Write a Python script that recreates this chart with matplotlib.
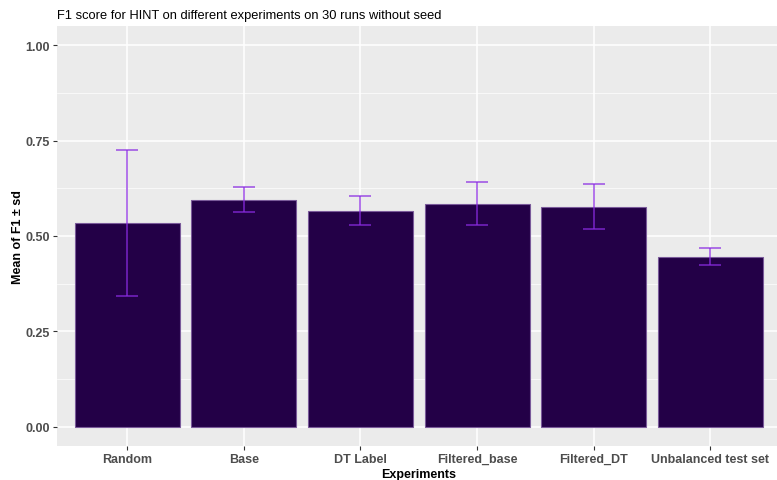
import matplotlib
matplotlib.use('Agg')
import matplotlib.pyplot as plt
import numpy as np
from matplotlib.ticker import MultipleLocator

experiments = ['Random', 'Base', 'DT Label', 'Filtered_base', 'Filtered_DT', 'Unbalanced test set']
mean_f1 = [0.534, 0.595, 0.566, 0.585, 0.577, 0.446]
sd_f1 = [0.191, 0.032, 0.038, 0.056, 0.058, 0.022]

plt.rcParams['font.family'] = ['Liberation Sans', 'DejaVu Sans']

fig = plt.figure(figsize=(7.77, 4.81), dpi=100)
ax = fig.add_axes([0.0734, 0.0707, 0.931, 0.8732])
ax.set_facecolor('#EBEBEB')

x = np.arange(len(experiments))
ax.bar(x, mean_f1, width=0.9, color='#230047', edgecolor='#7a5a9a', linewidth=0.8, zorder=3)
ax.errorbar(x, mean_f1, yerr=sd_f1, fmt='none', ecolor='#8A2BE2', alpha=0.7,
            elinewidth=1.3, capsize=8, capthick=1.3, zorder=4)

ax.set_xlim(-0.6, len(experiments) - 0.4)
ax.set_ylim(-0.05, 1.05)
ax.yaxis.set_major_locator(MultipleLocator(0.25))
ax.yaxis.set_minor_locator(MultipleLocator(0.125))
ax.set_xticks(x)
ax.set_xticklabels(experiments)
ax.set_yticklabels([f'{v:.2f}' for v in ax.get_yticks()])

ax.grid(True, which='major', color='white', linewidth=1.1, zorder=0)
ax.grid(True, which='minor', axis='y', color='white', linewidth=0.5, zorder=0)
ax.set_axisbelow(True)
for s in ax.spines.values():
    s.set_visible(False)

ax.tick_params(axis='both', which='major', length=3, width=0.8, color='#333333',
               labelcolor='#4D4D4D', labelsize=9, pad=2)
ax.tick_params(axis='y', which='minor', length=0)
for lab in ax.get_xticklabels() + ax.get_yticklabels():
    lab.set_fontweight('bold')

ax.set_xlabel('Experiments', fontsize=9, fontweight='bold', labelpad=2)
ax.set_ylabel('Mean of F1 ± sd', fontsize=9, fontweight='bold', labelpad=1)
ax.set_title('F1 score for HINT on different experiments on 30 runs without seed',
             fontsize=9.3, loc='left', pad=6)

fig.savefig('out.png', dpi=100)
